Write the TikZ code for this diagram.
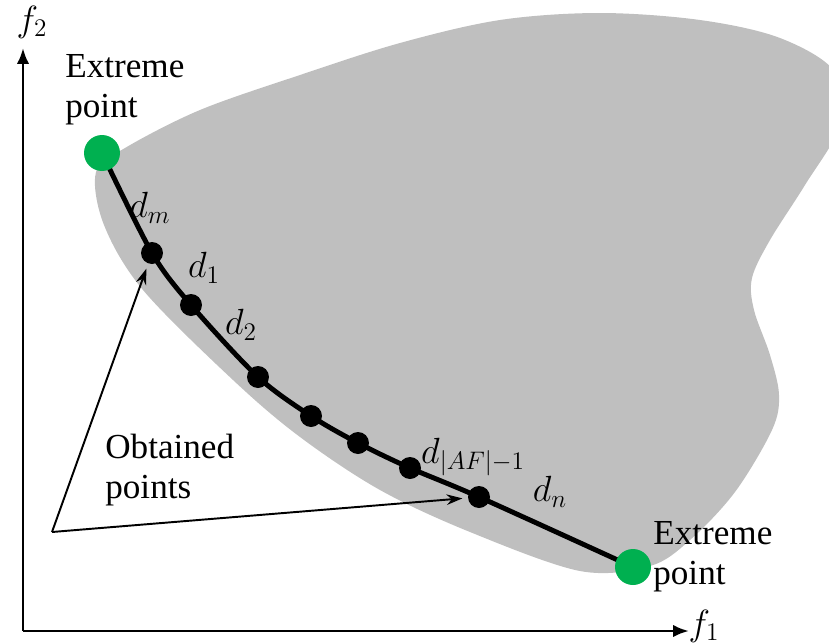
\documentclass[tikz,border=0pt]{standalone}
\usepackage{amsmath}
\usepackage{fontspec}
\setmainfont{Liberation Serif}
\usepackage{tikz}
\usetikzlibrary{arrows.meta,positioning,backgrounds}
\definecolor{regiongray}{RGB}{191,191,191}
\definecolor{extgreen}{RGB}{0,176,80}

\tikzset{
  dot/.style={circle,fill=black,inner sep=0pt,minimum size=0.44cm},
  extdot/.style={circle,fill=extgreen,inner sep=0pt,minimum size=0.72cm},
  axis/.style={line width=1.6pt,-{Latex[length=9pt,width=7pt]}},
  pointer/.style={line width=1.1pt,-{Stealth[length=9pt,width=6pt]},shorten >=3pt},
  front/.style={line width=2.8pt},
  lbl/.style={font=\fontsize{20}{22.7}\selectfont,align=left,inner sep=0pt},
  dlbl/.style={font=\fontsize{20}{22.7}\selectfont,inner sep=0pt}
}

\begin{document}
\begin{tikzpicture}[x=0.02cm,y=-0.02cm]
  \useasboundingbox (0,0) rectangle (829,643);

  % axes
  \coordinate (O) at (23,631);
  \coordinate (ytop) at (23,48);
  \coordinate (xend) at (689,631);
  \draw[axis] (O) -- (ytop);
  \draw[axis] (O) -- (xend);
  \node[dlbl] (f2) at (32,22) {$f_2$};
  \node[dlbl] (f1) at (704,626) {$f_1$};

  % obtained and extreme points
  \node[extdot] (e1) at (102,153) {};
  \node[dot] (p1) at (152,253) {};
  \node[dot] (p2) at (191,305) {};
  \node[dot] (p3) at (258,377) {};
  \node[dot] (p4) at (311,416) {};
  \node[dot] (p5) at (358,443) {};
  \node[dot] (p6) at (410,468) {};
  \node[dot] (p7) at (479,497) {};
  \node[extdot] (e2) at (633,567) {};

  \begin{scope}[on background layer]
    % feasible region
    \fill[regiongray] plot[smooth cycle,tension=0.55] coordinates {
      (96,172) (104,225) (143,290) (233,380) (300,437) (380,490)
      (470,532) (580,571) (650,566) (690,540) (735,492) (772,430)
      (779,395) (770,355) (754,310) (752,278) (770,240) (805,185)
      (840,125) (835,72) (780,38) (700,20) (600,13) (500,20) (400,43)
      (300,75) (200,110) (125,148)};
    % front
    \draw[front] plot[smooth,tension=0.5] coordinates {
      (e1.center) (p1.center) (p2.center) (p3.center) (p4.center)
      (p5.center) (p6.center) (p7.center) (e2.center)};
  \end{scope}

  % distance labels
  \node[dlbl] (dm) at (150,208) {$d_m$};
  \node[dlbl] (d1) at (204,268) {$d_1$};
  \node[dlbl] (d2) at (241,325) {$d_2$};
  \node[dlbl] (daf) at (473,457) {$d_{|AF|-1}$};
  \node[dlbl] (dn) at (550,492) {$d_n$};

  % texts
  \node[lbl,anchor=west] (ext1) at (65,90) {Extreme\\point};
  \node[lbl,anchor=west] (ext2) at (653,557) {Extreme\\point};
  \node[lbl,anchor=west] (obt) at (105,470) {Obtained\\points};

  % pointers
  \coordinate (tail) at (52,532);
  \draw[pointer] (tail) -- (p1);
  \draw[pointer] (tail) -- (p7);
\end{tikzpicture}
\end{document}
